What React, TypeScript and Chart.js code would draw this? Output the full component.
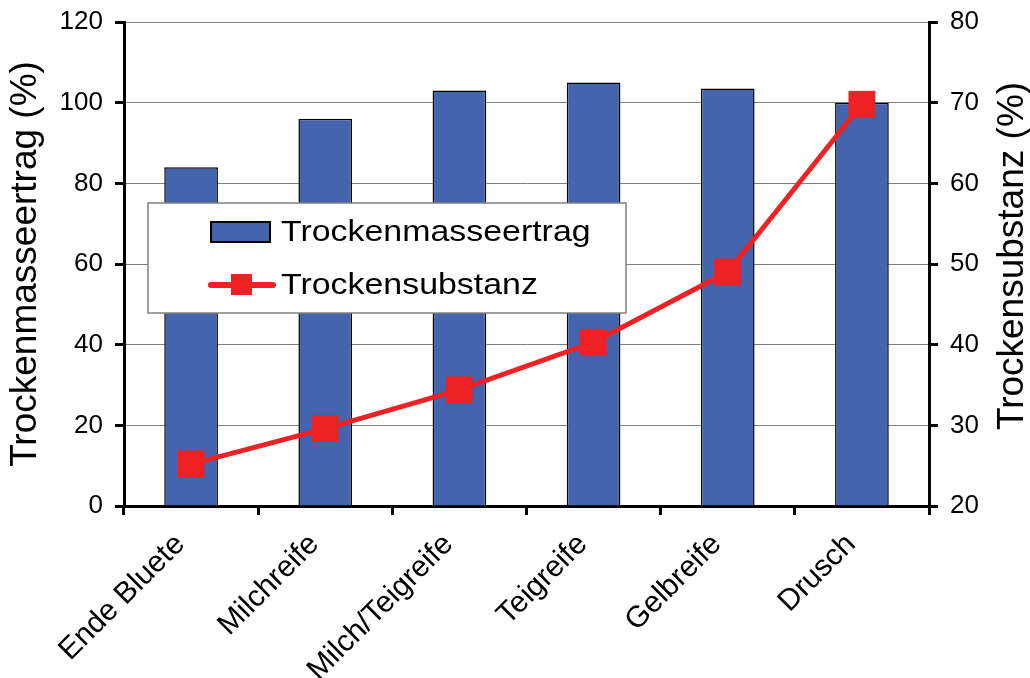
import React, { useEffect, useRef } from "react";
import { Chart, registerables } from "chart.js";

Chart.register(...registerables);

const categories = ["Ende Bluete", "Milchreife", "Milch/Teigreife", "Teigreife", "Gelbreife", "Drusch"];
const ertragValues = [84, 96, 103, 105, 103.5, 100];
const substanzValues = [25.2, 29.6, 34.4, 40.3, 49, 69.8];
const leftTitle = "Trockenmasseertrag (%)";
const rightTitle = "Trockensubstanz (%)";
const ertragLabel = "Trockenmasseertrag";
const substanzLabel = "Trockensubstanz";

const FONT = "'Liberation Sans', Arial, sans-serif";
const BAR_COLOR = "#4464AD";
const LINE_COLOR = "#EE2224";

const boxLegendPlugin = {
  id: "boxLegend",
  afterDraw(chart: any) {
    const ctx = chart.ctx as CanvasRenderingContext2D;
    const area = chart.chartArea;
    const bx = area.left + 24;
    const by = area.top + 181;
    const bw = 478;
    const bh = 110;
    ctx.save();
    ctx.fillStyle = "#ffffff";
    ctx.fillRect(bx, by, bw, bh);
    ctx.strokeStyle = "#808080";
    ctx.lineWidth = 1.5;
    ctx.strokeRect(bx, by, bw, bh);

    const ds0 = chart.data.datasets[0];
    const ds1 = chart.data.datasets[1];

    // item 1: bar
    ctx.fillStyle = ds0.backgroundColor;
    ctx.fillRect(bx + 63, by + 19, 59, 20);
    ctx.strokeStyle = "#000000";
    ctx.lineWidth = 2;
    ctx.strokeRect(bx + 63, by + 19, 59, 20);

    // item 2: line + square
    ctx.strokeStyle = ds1.borderColor;
    ctx.lineWidth = 6;
    ctx.lineCap = "round";
    ctx.beginPath();
    ctx.moveTo(bx + 63, by + 82);
    ctx.lineTo(bx + 125, by + 82);
    ctx.stroke();
    ctx.fillStyle = ds1.borderColor;
    ctx.fillRect(bx + 83, by + 71, 21, 21);

    ctx.fillStyle = "#000000";
    ctx.font = `30px ${FONT}`;
    ctx.textAlign = "left";
    ctx.textBaseline = "middle";
    const drawStretched = (text: string, x: number, y: number) => {
      ctx.save();
      ctx.translate(x, y);
      ctx.scale(1.13, 1);
      ctx.fillText(text, 0, 0);
      ctx.restore();
    };
    drawStretched(ds0.label, bx + 133, by + 30);
    drawStretched(ds1.label, bx + 133, by + 83);
    ctx.restore();
  },
};

const rightTitlePlugin = {
  id: "rightTitle",
  afterDraw(chart: any) {
    const ctx = chart.ctx as CanvasRenderingContext2D;
    ctx.save();
    ctx.translate(1023, 256);
    ctx.rotate(-Math.PI / 2);
    ctx.fillStyle = "#000000";
    ctx.font = `37px ${FONT}`;
    ctx.textAlign = "center";
    ctx.textBaseline = "alphabetic";
    ctx.fillText(rightTitle, 0, 0);
    ctx.restore();
  },
};

export default function App() {
  const canvasRef = useRef<HTMLCanvasElement | null>(null);

  useEffect(() => {
    document.body.style.margin = "0";
    const canvas = canvasRef.current;
    if (!canvas) return;
    const chart = new Chart(canvas, {
      type: "bar",
      data: {
        labels: categories,
        datasets: [
          {
            type: "bar",
            label: ertragLabel,
            data: ertragValues,
            backgroundColor: BAR_COLOR,
            borderColor: "#000000",
            borderWidth: 1.5,
            barPercentage: 0.4,
            categoryPercentage: 1,
            yAxisID: "y",
            order: 2,
          },
          {
            type: "line",
            label: substanzLabel,
            data: substanzValues,
            borderColor: LINE_COLOR,
            backgroundColor: LINE_COLOR,
            borderWidth: 5,
            pointStyle: "rect",
            pointRadius: 19,
            pointBorderWidth: 0,
            pointBackgroundColor: LINE_COLOR,
            tension: 0,
            yAxisID: "y2",
            order: 1,
          } as any,
        ],
      },
      options: {
        responsive: false,
        animation: false,
        layout: { padding: { top: 22, left: 0, right: 0, bottom: 0 } },
        plugins: {
          legend: { display: false },
          tooltip: { enabled: false },
        },
        scales: {
          x: {
            position: "bottom",
            grid: {
              offset: true,
              drawOnChartArea: false,
              color: "#000000",
              tickColor: "#000000",
              tickLength: 9,
              lineWidth: 3,
              tickWidth: 3,
            },
            border: { color: "#000000", width: 3 },
            ticks: {
              color: "#000000",
              font: { family: FONT, size: 30 },
              maxRotation: 45,
              minRotation: 45,
              padding: 12,
              labelOffset: -11,
              autoSkip: false,
            },
            afterFit(scale: any) {
              scale.height = 172;
              scale.paddingLeft = 0;
              scale.paddingRight = 0;
            },
          },
          y: {
            position: "left",
            min: 0,
            max: 120,
            ticks: {
              stepSize: 20,
              color: "#000000",
              font: { family: FONT, size: 26 },
              padding: 12,
            },
            grid: {
              color: "#808080",
              lineWidth: 1,
              tickColor: "#000000",
              tickWidth: 3,
              tickLength: 9,
            },
            border: { color: "#000000", width: 3 },
            title: {
              display: true,
              text: leftTitle,
              color: "#000000",
              font: { family: FONT, size: 37 },
              padding: { top: 4, bottom: 0 },
            },
            afterFit(scale: any) {
              scale.width = 124;
              scale.paddingTop = 0;
              scale.paddingBottom = 0;
            },
          },
          y2: {
            position: "right",
            min: 20,
            max: 80,
            ticks: {
              stepSize: 10,
              color: "#000000",
              font: { family: FONT, size: 26 },
              padding: 12,
            },
            grid: {
              drawOnChartArea: false,
              color: "#000000",
              tickColor: "#000000",
              tickWidth: 3,
              tickLength: 9,
            },
            border: { color: "#000000", width: 3 },
            afterFit(scale: any) {
              scale.width = 101;
              scale.paddingTop = 0;
              scale.paddingBottom = 0;
            },
          },
        },
      },
      plugins: [boxLegendPlugin, rightTitlePlugin],
    });
    return () => chart.destroy();
  }, []);

  return (
    <div style={{ position: "absolute", left: 0, top: 0, width: 1030, height: 678, background: "#ffffff" }}>
      <canvas ref={canvasRef} width={1030} height={678} style={{ display: "block" }} />
    </div>
  );
}
